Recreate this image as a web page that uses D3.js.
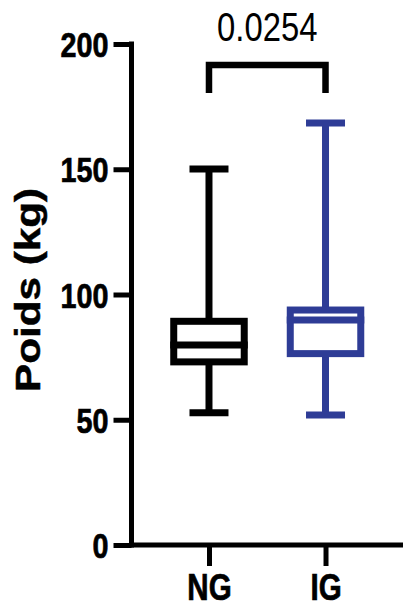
<!DOCTYPE html>
<html>
<head>
<meta charset="utf-8">
<script src="https://cdn.jsdelivr.net/npm/d3@7"></script>
<style>
  html, body { margin: 0; padding: 0; background: #fff; }
  svg { display: block; }
</style>
</head>
<body>
<svg id="chart" width="403" height="613"></svg>
<script>
// ---- data ----
const categories = ["NG", "IG"];
const whiskerMin = [52.8, 51.9];
const q1 = [73.1, 76.4];
const median = [79.8, 89.8];
const q3 = [89.3, 93.8];
const whiskerMax = [150.1, 168.5];
const colors = ["#000000", "#2e3c96"];
const yTicks = [0, 50, 100, 150, 200];
const yLabel = "Poids (kg)";
const pValue = "0.0254";

// ---- layout ----
const svg = d3.select("#chart");
const sans = "'Liberation Sans', Arial, sans-serif";

// condense text horizontally (narrow face look)
function condense(sel, factor) {
  sel.each(function() {
    const w = this.getComputedTextLength();
    d3.select(this).attr("textLength", w * factor).attr("lengthAdjust", "spacingAndGlyphs");
  });
}

const y = d3.scaleLinear().domain([0, 200]).range([545, 44]);
const x = d3.scalePoint().domain(categories).range([131.5, 403]).padding(0.665);

// y axis
const yAxis = svg.append("g")
  .attr("transform", "translate(131.5,0)")
  .call(d3.axisLeft(y).tickValues(yTicks).tickSize(18).tickPadding(5).tickSizeOuter(0));
yAxis.select(".domain").attr("stroke", "#000").attr("stroke-width", 5)
  .attr("d", `M0,${y(200) - 2.5}V${y(0) + 2.5}`);
yAxis.selectAll(".tick line").attr("stroke", "#000").attr("stroke-width", 5);
yAxis.selectAll(".tick text")
  .attr("fill", "#000")
  .attr("stroke", "#000")
  .attr("stroke-width", 0.7)
  .style("font-family", sans)
  .style("font-weight", "bold")
  .style("font-size", "35px")
  .attr("dy", "0.36em")
  .call(condense, 0.82);

// x axis
const xAxis = svg.append("g")
  .attr("transform", `translate(0,${y(0)})`)
  .call(d3.axisBottom(x).tickSize(21).tickPadding(8).tickSizeOuter(0));
xAxis.select(".domain").attr("stroke", "#000").attr("stroke-width", 5)
  .attr("d", `M129,0H403`);
xAxis.selectAll(".tick line").attr("stroke", "#000").attr("stroke-width", 5);
xAxis.selectAll(".tick text")
  .attr("fill", "#000")
  .attr("stroke", "#000")
  .attr("stroke-width", 0.7)
  .style("font-family", sans)
  .style("font-weight", "bold")
  .style("font-size", "36px")
  .attr("dy", "0.71em")
  .call(condense, 0.82);

// y label
svg.append("text")
  .attr("transform", `translate(40,290) rotate(-90)`)
  .attr("text-anchor", "middle")
  .attr("textLength", 204)
  .attr("lengthAdjust", "spacingAndGlyphs")
  .style("font-family", sans)
  .style("font-weight", "bold")
  .style("font-size", "35px")
  .attr("fill", "#000")
  .attr("stroke", "#000")
  .attr("stroke-width", 0.5)
  .text(yLabel);

// boxes
const boxW = 70.5, capW = 39, sw = 7;
const groups = svg.append("g").selectAll("g").data(categories).join("g")
  .attr("stroke", (d, i) => colors[i])
  .attr("stroke-width", sw)
  .attr("fill", "none");

groups.each(function(d, i) {
  const g = d3.select(this);
  const cx = x(d);
  g.append("line").attr("x1", cx).attr("x2", cx).attr("y1", y(whiskerMax[i])).attr("y2", y(q3[i]));
  g.append("line").attr("x1", cx).attr("x2", cx).attr("y1", y(q1[i])).attr("y2", y(whiskerMin[i]));
  g.append("line").attr("x1", cx - capW / 2).attr("x2", cx + capW / 2)
    .attr("y1", y(whiskerMax[i])).attr("y2", y(whiskerMax[i]));
  g.append("line").attr("x1", cx - capW / 2).attr("x2", cx + capW / 2)
    .attr("y1", y(whiskerMin[i])).attr("y2", y(whiskerMin[i]));
  g.append("rect")
    .attr("x", cx - boxW / 2).attr("width", boxW)
    .attr("y", y(q3[i])).attr("height", y(q1[i]) - y(q3[i]))
    .attr("fill", "#fff");
  g.append("line").attr("x1", cx - boxW / 2 - sw / 2).attr("x2", cx + boxW / 2 + sw / 2)
    .attr("y1", y(median[i])).attr("y2", y(median[i]));
});

// significance bracket
const bx1 = x(categories[0]), bx2 = x(categories[1]);
svg.append("path")
  .attr("d", `M${bx1},93V65H${bx2}V93`)
  .attr("fill", "none")
  .attr("stroke", "#000")
  .attr("stroke-width", 6.5)
  .attr("stroke-linejoin", "miter")
  .attr("stroke-linecap", "butt");
svg.append("text")
  .attr("x", (bx1 + bx2) / 2)
  .attr("y", 40.7)
  .attr("text-anchor", "middle")
  .style("font-family", sans)
  .style("font-size", "40px")
  .attr("fill", "#000")
  .text(pValue)
  .call(condense, 0.82);
</script>
</body>
</html>
